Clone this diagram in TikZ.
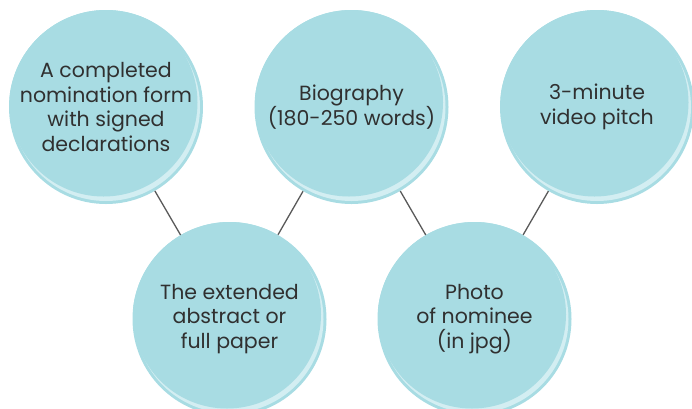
\documentclass[tikz,border=0pt]{standalone}
\usepackage{fontspec}
\setmainfont{Poppins}
\definecolor{bubblecol}{HTML}{A8DCE3}
\definecolor{shinecol}{HTML}{D3EEF2}
\definecolor{txtcol}{HTML}{303030}
\tikzset{
  bubble/.style={circle, fill=bubblecol, minimum size=194pt, inner sep=0pt,
    align=center, text=txtcol, font=\fontsize{20.5}{24.5}\selectfont,
    path picture={
      \fill[shinecol] (path picture bounding box.center) circle (94pt);%高光
      \fill[bubblecol] ([shift={(-2.5pt,4.5pt)}]path picture bounding box.center) circle (94pt);
    }},
  link/.style={draw=black!65, line width=1.3pt}
}
\begin{document}
\begin{tikzpicture}[x=1pt,y=-1pt]
    \useasboundingbox (0,0) rectangle (692,408);%画布大小
    \node[bubble] (form) at (106,107) {A completed\\nomination form\\with signed\\declarations};
    \node[bubble] (bio) at (351.5,107) {Biography\\(180-250 words)};
    \node[bubble] (video) at (597,107) {3-minute\\video pitch};
    \node[bubble] (paper) at (229.5,319) {The extended\\abstract or\\full paper};
    \node[bubble] (photo) at (474.5,319) {Photo\\of nominee\\(in jpg)};
    \draw[link] (form) -- (paper);%连线
    \draw[link] (bio) -- (paper);
    \draw[link] (bio) -- (photo);
    \draw[link] (video) -- (photo);
\end{tikzpicture}
\end{document}
